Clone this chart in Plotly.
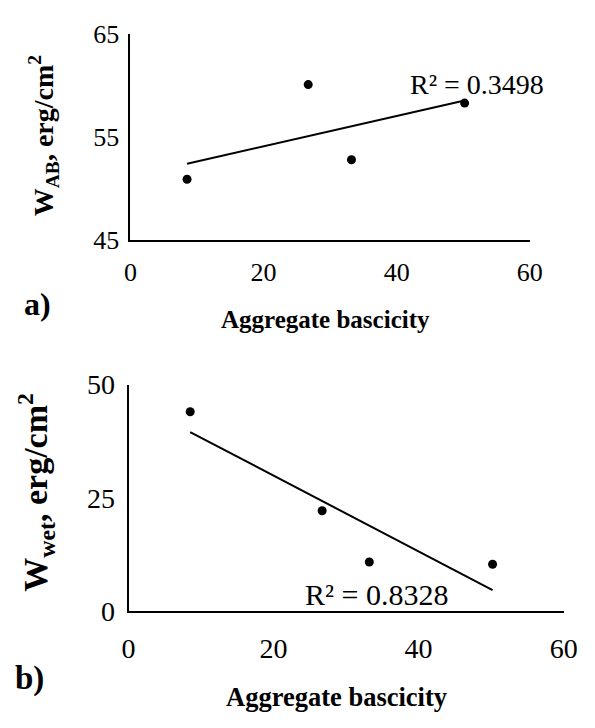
import numpy as np
import plotly.graph_objects as go

# ------------------------------------------------------------------ data
BASICITY = [8.5, 26.7, 33.2, 50.2]
W_AB = [50.9, 60.1, 52.8, 58.3]
W_WET = [44.0, 22.2, 10.9, 10.4]
R2_AB = "R² = 0.3498"
R2_WET = "R² = 0.8328"

FONT = "Liberation Serif"
W, H = 595, 728


def px(x):
    return x / W


def py(y):
    return 1 - y / H


def trend(x, y):
    k, b = np.polyfit(x, y, 1)
    xs = np.array([min(x), max(x)])
    return xs, k * xs + b


fig = go.Figure()

for xa, ya, ys in [("x", "y", W_AB), ("x2", "y2", W_WET)]:
    tx, ty = trend(BASICITY, ys)
    fig.add_trace(go.Scatter(x=tx, y=ty, mode="lines", xaxis=xa, yaxis=ya,
                             line=dict(color="black", width=2), showlegend=False))
    fig.add_trace(go.Scatter(x=BASICITY, y=ys, mode="markers", xaxis=xa, yaxis=ya,
                             marker=dict(color="black", size=9), showlegend=False))


def axis_style(size):
    return dict(showgrid=False, zeroline=False, showline=True, linecolor="black",
                linewidth=2, ticks="", tickfont=dict(family=FONT, size=size, color="black"))


fig.update_layout(
    width=W, height=H,
    margin=dict(l=0, r=0, t=0, b=0),
    plot_bgcolor="white", paper_bgcolor="white",
    font=dict(family=FONT, color="black"),
    xaxis=dict(domain=[px(128), px(542)], anchor="y", range=[0, 60], tickvals=[0, 20, 40, 60],
               ticklabelstandoff=8, **axis_style(26)),
    yaxis=dict(domain=[py(235), py(20)], anchor="x", range=[45, 65], tickvals=[45, 55, 65],
               ticklabelstandoff=4, **axis_style(26)),
    xaxis2=dict(domain=[px(126), px(577)], anchor="y2", range=[0, 60], tickvals=[0, 20, 40, 60],
                ticklabelstandoff=11, **axis_style(28)),
    yaxis2=dict(domain=[py(623), py(386)], anchor="x2", range=[0, 50], tickvals=[0, 25, 50],
                ticklabelstandoff=6, **axis_style(28)),
)

annotations = [
    # (text, x px, y px, size, bold, angle)
    (R2_AB, 487, 73, 28, False, 0),
    (R2_WET, 383, 605, 30, False, 0),
    ("W<sub>AB</sub>, erg/cm<sup>2</sup>", 38, 126, 28, True, -90),
    ("W<sub>wet</sub>, erg/cm<sup>2</sup>", 30, 498, 34, True, -90),
    ("Aggregate bascicity", 330, 318, 25, True, 0),
    ("Aggregate bascicity", 342, 712, 26.5, True, 0),
    ("a)", 32, 302, 32, True, 0),
    ("b)", 23, 693, 33, True, 0),
]
for text, x, y, size, bold, angle in annotations:
    fig.add_annotation(
        text=f"<b>{text}</b>" if bold else text,
        x=px(x), y=py(y), xref="paper", yref="paper",
        xanchor="center", yanchor="middle", showarrow=False, textangle=angle,
        font=dict(family=FONT, size=size, color="black"),
    )

page_fix = (
    "document.documentElement.style.margin = '0';"
    "document.documentElement.style.overflow = 'hidden';"
    "document.body.style.margin = '0';"
    "document.body.style.overflow = 'hidden';"
)
fig.write_html("out.html", post_script=page_fix, config={"displayModeBar": False})
